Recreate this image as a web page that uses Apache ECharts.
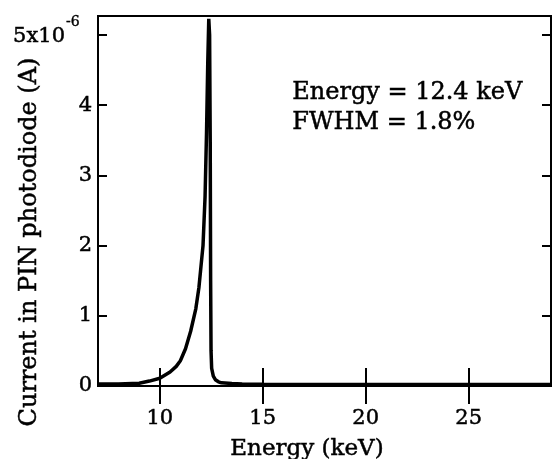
<!DOCTYPE html>
<html>
<head>
<meta charset="utf-8">
<script src="https://cdn.jsdelivr.net/npm/echarts@6/dist/echarts.min.js"></script>
<style>
  html, body { margin: 0; padding: 0; background: #fff; }
  #chart { width: 552px; height: 459px; }
</style>
</head>
<body>
<div id="chart"></div>
<script>
// energy in keV, current in units of 1e-6 A
const energy = [7.0, 8.0, 9.0, 9.5, 10.0, 10.5, 10.8, 11.0, 11.25, 11.5, 11.75, 11.9, 12.0, 12.1, 12.2, 12.27, 12.33, 12.38,
  12.42, 12.45, 12.47, 12.49, 12.52, 12.6, 12.7, 12.85, 13.0, 13.5, 14.0, 15.0, 20.0, 25.0, 29.0];
const current = [0.03, 0.03, 0.04, 0.07, 0.11, 0.2, 0.28, 0.36, 0.53, 0.78, 1.1, 1.4, 1.7, 2.0, 2.7, 3.6, 4.6, 5.23,
  5.0, 3.5, 1.5, 0.5, 0.25, 0.14, 0.09, 0.06, 0.045, 0.035, 0.03, 0.025, 0.02, 0.02, 0.02];
const xTicks = [10, 15, 20, 25];
const yTicks = [0, 1, 2, 3, 4, 5];
const annotation = ["Energy = 12.4 keV", "FWHM = 1.8%"];

const font = "DejaVu Serif";
const ink = { color: "#000", textBorderColor: "#000", textBorderWidth: 0.5 };
const chart = echarts.init(document.getElementById("chart"));

const xBase = {
  type: "value", min: 7, max: 29,
  axisLine: { show: true, lineStyle: { color: "#000", width: 2 } },
  axisTick: { inside: true, length: 18, customValues: xTicks, lineStyle: { color: "#000", width: 2 } },
  splitLine: { show: false }
};
const yBase = {
  type: "value", min: 0, max: 5.27,
  axisLine: { show: true, lineStyle: { color: "#000", width: 2 } },
  axisTick: { inside: true, length: 9, customValues: yTicks, lineStyle: { color: "#000", width: 2 } },
  splitLine: { show: false }
};

// the top label reads 5x10^-6, drawn as two texts so the exponent sits raised
const topTick = yTicks[yTicks.length - 1];

chart.setOption({
  animation: false,
  grid: { left: 98, top: 16, right: 1, bottom: 73, show: true, borderColor: "#000", borderWidth: 2 },
  xAxis: [
    Object.assign({}, xBase, {
      position: "bottom",
      axisLabel: Object.assign({ customValues: xTicks, fontFamily: font, fontSize: 21, margin: 22 }, ink)
    }),
    Object.assign({}, xBase, { position: "top", axisLabel: { show: false } })
  ],
  yAxis: [
    Object.assign({}, yBase, {
      position: "left",
      axisLabel: Object.assign({
        customValues: yTicks.slice(0, -1), fontFamily: font, fontSize: 21, margin: 6
      }, ink)
    }),
    Object.assign({}, yBase, { position: "right", axisLabel: { show: false } })
  ],
  graphic: [
    {
      type: "text", x: 65, y: 37,
      style: { text: topTick + "x10", fontFamily: font, fontSize: 21, fill: "#000",
        stroke: "#000", lineWidth: 0.5, align: "right", verticalAlign: "middle" }
    },
    {
      type: "text", x: 66, y: 22,
      style: { text: "-6", fontFamily: font, fontSize: 14, fill: "#000",
        stroke: "#000", lineWidth: 0.4, align: "left", verticalAlign: "middle" }
    },
    {
      type: "text", x: 30, y: 242, rotation: Math.PI / 2,
      style: { text: "Current in PIN photodiode (A)", fontFamily: font, fontSize: 24, fill: "#000",
        stroke: "#000", lineWidth: 0.5, align: "center", verticalAlign: "middle" }
    },
    {
      type: "text", x: 307, y: 449,
      style: { text: "Energy (keV)", fontFamily: font, fontSize: 23, fill: "#000",
        stroke: "#000", lineWidth: 0.5, align: "center", verticalAlign: "middle" }
    },
    {
      type: "text", left: 292, top: 78,
      style: { text: annotation.join("\n"), fontFamily: font, fontSize: 24, lineHeight: 30, fill: "#000",
        stroke: "#000", lineWidth: 0.5 }
    }
  ],
  series: [{
    type: "line",
    xAxisIndex: 0, yAxisIndex: 0,
    data: energy.map((e, i) => [e, current[i]]),
    showSymbol: false,
    lineStyle: { color: "#000", width: 3.5 }
  }]
});
</script>
</body>
</html>
